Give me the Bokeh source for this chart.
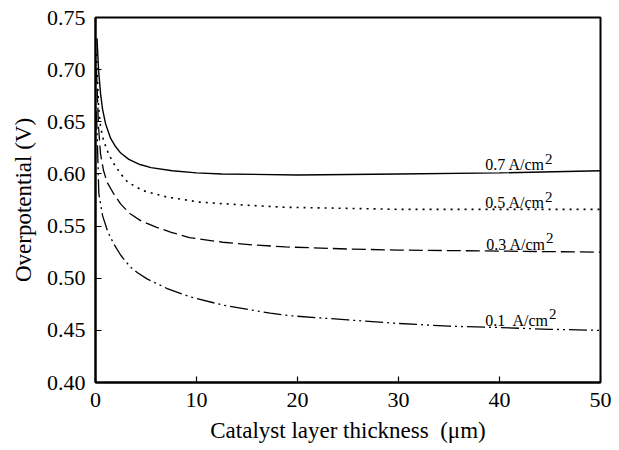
from bokeh.plotting import figure
from bokeh.models import Range1d, FixedTicker, PrintfTickFormatter, ColumnDataSource
from bokeh.core.properties import value
from bokeh.embed import file_html
from bokeh.resources import INLINE

# ---- data ----
x_07 = [0.15, 0.3, 0.5, 0.7, 1.0, 1.5, 2.0, 2.5, 3.3, 4.4, 5.5, 7.6, 10, 12.5, 20, 30, 40, 50]
y_07 = [0.730, 0.700, 0.677, 0.662, 0.648, 0.634, 0.626, 0.620, 0.614, 0.609, 0.606, 0.603, 0.601, 0.600, 0.599, 0.600, 0.601, 0.603]

x_05 = [0.1, 0.3, 0.5, 0.8, 1.3, 1.8, 2.5, 3.2, 4.7, 7, 10.3, 14.9, 18.8, 25, 30, 40, 50]
y_05 = [0.715, 0.665, 0.645, 0.632, 0.619, 0.610, 0.600, 0.592, 0.584, 0.578, 0.573, 0.570, 0.568, 0.567, 0.566, 0.566, 0.566]

x_03 = [0.1, 0.3, 0.5, 0.8, 1.15, 1.8, 2.5, 3.4, 4.5, 6, 7.5, 9.3, 12.6, 15.5, 18.8, 25, 30, 40, 50]
y_03 = [0.700, 0.645, 0.619, 0.603, 0.592, 0.581, 0.571, 0.562, 0.555, 0.549, 0.544, 0.539, 0.5345, 0.532, 0.530, 0.528, 0.527, 0.526, 0.525]

x_01 = [0.1, 0.33, 0.7, 1.2, 1.8, 2.5, 3.46, 4.2, 5.1, 7.1, 9.4, 12.7, 17.3, 19.3, 25, 30, 35, 40, 45, 50]
y_01 = [0.660, 0.581, 0.560, 0.545, 0.533, 0.522, 0.5106, 0.505, 0.4994, 0.490, 0.482, 0.474, 0.4665, 0.464, 0.460, 0.4566, 0.454, 0.4527, 0.451, 0.450]

label_texts = ["0.7 A/cm", "0.5 A/cm", "0.3 A/cm", "0.1\u00a0 A/cm"]
label_x = [38.6, 38.6, 38.7, 38.6]
label_y = [0.609, 0.5725, 0.5325, 0.4595]
sup_x = [44.5, 44.5, 44.6, 44.9]

x_ticks = [0, 10, 20, 30, 40, 50]
y_ticks = [0.40, 0.45, 0.50, 0.55, 0.60, 0.65, 0.70, 0.75]

FONT = "Liberation Serif"

p = figure(width=619, height=450, output_backend="svg", toolbar_location=None,
           x_range=Range1d(0, 50), y_range=Range1d(0.40, 0.75),
           min_border_left=95, min_border_right=19, min_border_top=17, min_border_bottom=68)
p.background_fill_color = "white"
p.border_fill_color = "white"
p.outline_line_color = "black"
p.outline_line_width = 2
p.grid.visible = False

p.line(x_07, y_07, line_color="black", line_width=1.4)
p.line(x_05, y_05, line_color="black", line_width=1.6, line_dash="2 5")
p.line(x_03, y_03, line_color="black", line_width=1.3, line_dash="14 5")
p.line(x_01, y_01, line_color="black", line_width=1.3, line_dash="18 4 2 4 2 4")

src = ColumnDataSource(dict(x=label_x, y=label_y, t=label_texts, sx=sup_x))
p.text(x="x", y="y", text="t", source=src, text_font=value(FONT), text_font_size="16px",
       text_baseline="alphabetic", text_align="left", text_color="black")
p.text(x="sx", y="y", text=value("2"), source=src, text_font=value(FONT), text_font_size="15px",
       text_baseline="alphabetic", text_align="left", text_color="black", y_offset=-6)

for ax in (p.xaxis[0], p.yaxis[0]):
    ax.axis_line_width = 2
    ax.axis_line_color = "black"
    ax.major_tick_in = 6
    ax.major_tick_out = 0
    ax.major_tick_line_width = 1.2
    ax.minor_tick_line_color = None
    ax.major_label_text_font = FONT
    ax.major_label_text_font_size = "22px"
    ax.major_label_text_color = "black"
    ax.axis_label_text_font = FONT
    ax.axis_label_text_font_size = "23px"
    ax.axis_label_text_font_style = "normal"
    ax.axis_label_text_color = "black"

p.xaxis[0].ticker = FixedTicker(ticks=x_ticks)
p.yaxis[0].ticker = FixedTicker(ticks=y_ticks)
p.yaxis[0].formatter = PrintfTickFormatter(format="%.2f")
p.xaxis[0].axis_label = "Catalyst layer thickness\u00a0 (\u03bcm)"
p.yaxis[0].axis_label = "Overpotential (V)"
p.xaxis[0].major_label_standoff = 10
p.yaxis[0].major_label_standoff = 10
p.xaxis[0].axis_label_standoff = 8
p.yaxis[0].axis_label_standoff = 8

open("out.html", "w").write(file_html(p, INLINE))
